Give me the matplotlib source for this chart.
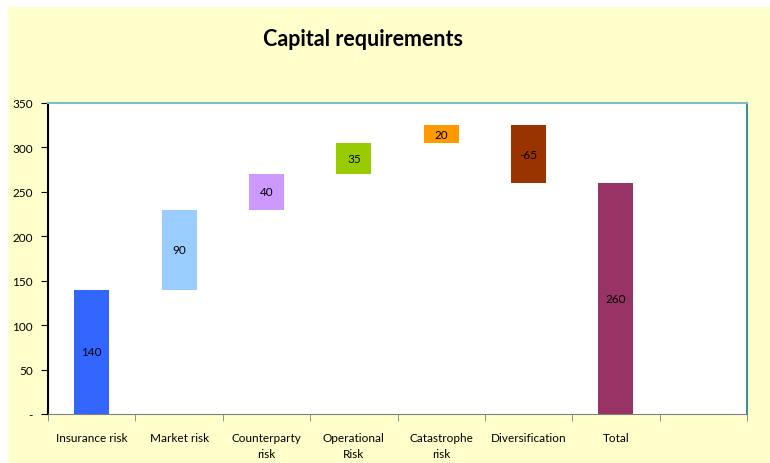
# Waterfall chart of capital requirements by risk type
import matplotlib
matplotlib.use('Agg')
import matplotlib.pyplot as plt
import matplotlib.patches as mpatches
import numpy as np

# Risk components and their contributions
categories = ['Insurance risk', 'Market risk', 'Counterparty\nrisk', 'Operational\nRisk',
              'Catastrophe\nrisk', 'Diversification', 'Total']
components = [140, 90, 40, 35, 20, -65]
colors = ['#3366FF', '#99CCFF', '#CC99FF', '#99CC00', '#FF9900', '#993300', '#993366']
yticks = [0, 50, 100, 150, 200, 250, 300, 350]
yticklabels = ['-', '50', '100', '150', '200', '250', '300', '350']

# Build bottoms / heights for the floating bars plus the total bar
total = sum(components)
bottoms = list(np.cumsum([0] + components[:-1])) + [0]
heights = components + [total]
labels = [str(v) for v in heights]

matplotlib.rc('font', family=['Lato', 'DejaVu Sans'], size=8.5)

fig = plt.figure(figsize=(7.7, 4.64), dpi=100, facecolor='white')
fig.patches.append(mpatches.Rectangle((8 / 770, 0), 1, 1 - 8 / 464, transform=fig.transFigure,
                                      facecolor='#FFFFCC', edgecolor='none', zorder=-10))
ax = fig.add_axes([48 / 770, 49 / 464, 699 / 770, 311 / 464])
ax.set_facecolor('white')

x = np.arange(len(categories))
ax.bar(x, heights, bottom=bottoms, width=0.4, color=colors, zorder=3)
for xi, b, h, lab in zip(x, bottoms, heights, labels):
    ax.text(xi, b + h / 2, lab, ha='center', va='center', fontsize=8.5, color='black', zorder=4)

# One empty slot at the right end
ax.set_xlim(-0.5, len(categories) + 0.5)
ax.set_ylim(0, 350)
ax.set_yticks(yticks)
ax.set_yticklabels(yticklabels)
ax.set_xticks(x)
ax.set_xticklabels(categories, va='top', linespacing=1.6)
ax.set_xticks(np.arange(-0.5, len(categories) + 1), minor=True)
ax.tick_params(axis='x', which='major', length=0, pad=13)
ax.tick_params(axis='x', which='minor', length=5, color='#808080', direction='out')
ax.tick_params(axis='y', length=5, direction='out', pad=6, labelsize=8.5)

ax.spines['left'].set_color('black')
ax.spines['left'].set_linewidth(1.5)
ax.spines['bottom'].set_color('#808080')
ax.spines['top'].set_color('#7DC0C4')
ax.spines['top'].set_linewidth(1.5)
ax.spines['right'].set_color('#3F8F96')
ax.spines['right'].set_linewidth(1.5)

fig.text(363 / 770, 1 - 40 / 464, 'Capital requirements', ha='center', va='center',
         fontsize=15.5, fontweight='bold')

plt.savefig('out.png', dpi=100, facecolor=fig.get_facecolor())
